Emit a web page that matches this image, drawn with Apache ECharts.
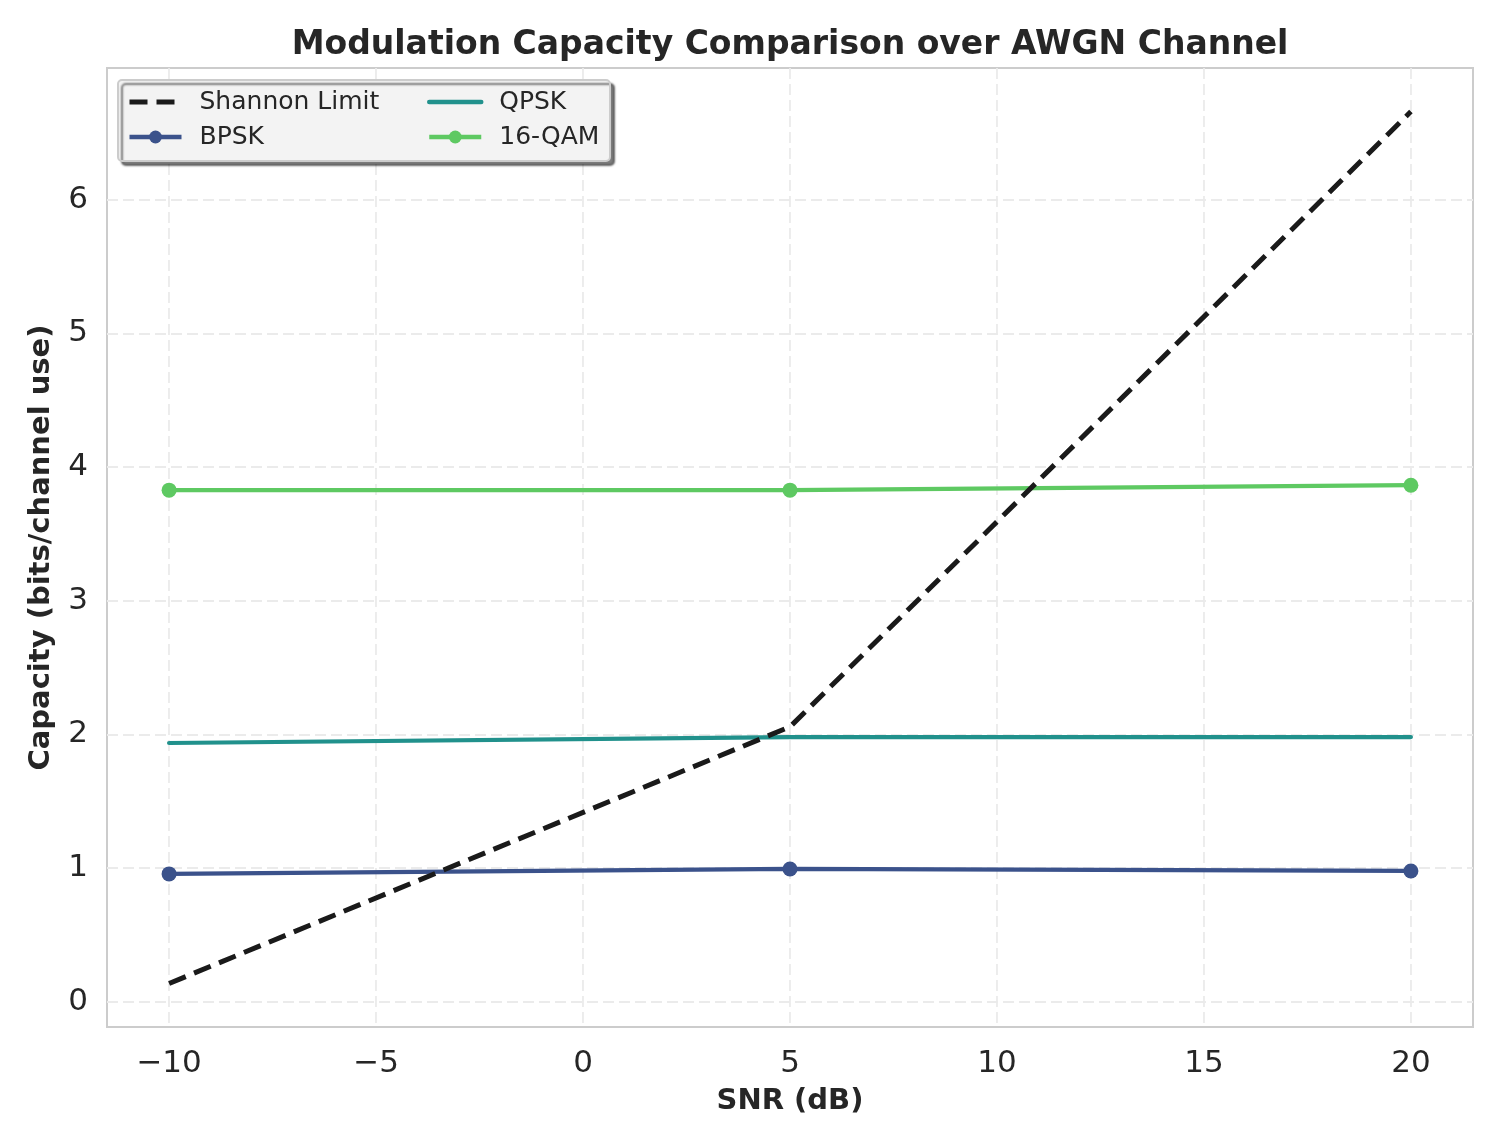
<!DOCTYPE html>
<html><head><meta charset="utf-8">
<script src="https://cdn.jsdelivr.net/npm/echarts@6/dist/echarts.min.js"></script>
<style>html,body{margin:0;padding:0;background:#fff}#c{width:1503px;height:1145px}</style>
</head><body><div id="c"></div>
<script>
const snr = [-10, 5, 20];
const shannon = [0.1375, 2.057, 6.658];
const bpsk = [0.957, 0.994, 0.979];
const qpsk = [1.936, 1.98, 1.98];
const qam16 = [3.827, 3.827, 3.864];
const xTicks = [-10, -5, 0, 5, 10, 15, 20];
const yTicks = [0, 1, 2, 3, 4, 5, 6];

const FONT = "DejaVu Sans";
const TXT = '#262626';
const pair = (ys) => snr.map((x, i) => [x, ys[i]]);
const chart = echarts.init(document.getElementById('c'), null, {renderer: 'canvas'});
const splitStyle = {show: true, lineStyle: {color: '#ebebeb', width: 1.8, type: [11, 5]}};
const legendText = {fontFamily: FONT, fontSize: 25, color: TXT, lineHeight: 26, padding: [0, 0, 0, 13]};
chart.setOption({
  animation: false,
  backgroundColor: '#fff',
  title: {text: 'Modulation Capacity Comparison over AWGN Channel', left: 790, top: 28, padding: 0, textAlign: 'center',
    textStyle: {fontFamily: FONT, fontWeight: 'bold', fontSize: 33, color: TXT, lineHeight: 35}},
  grid: {left: 107, right: 30, top: 68, bottom: 118, show: true, borderColor: '#cccccc', borderWidth: 2, backgroundColor: '#fff'},
  xAxis: {type: 'value', min: -11.5, max: 21.5,
    name: 'SNR (dB)', nameLocation: 'middle', nameGap: 60,
    nameTextStyle: {fontFamily: FONT, fontWeight: 'bold', fontSize: 29, color: TXT},
    axisLine: {show: false}, axisTick: {show: false, customValues: xTicks}, splitLine: splitStyle,
    axisLabel: {fontFamily: FONT, fontSize: 31, color: TXT, margin: 21, customValues: xTicks,
      formatter: v => String(v).replace('-', '\u2212')}},
  yAxis: {type: 'value', min: -0.188, max: 6.984,
    name: 'Capacity (bits/channel use)', nameLocation: 'middle', nameGap: 51,
    nameTextStyle: {fontFamily: FONT, fontWeight: 'bold', fontSize: 29, color: TXT},
    axisLine: {show: false}, axisTick: {show: false, customValues: yTicks}, splitLine: splitStyle,
    axisLabel: {fontFamily: FONT, fontSize: 31, color: TXT, margin: 19, customValues: yTicks}},
  graphic: [{type: 'rect', shape: {x: 118, y: 80, width: 492, height: 81, r: 4}, z: 10,
    style: {fill: '#f3f3f3', stroke: '#cccccc', lineWidth: 2, shadowColor: 'rgba(0,0,0,0.5)', shadowOffsetX: 4, shadowOffsetY: 4, shadowBlur: 2}}],
  legend: [
    {data: [{name: 'Shannon Limit', itemStyle: {opacity: 0}, lineStyle: {width: 5, type: [18, 9]}},
            {name: 'BPSK', lineStyle: {width: 4.5}}],
     orient: 'vertical', left: 127, top: 89, padding: 0, itemWidth: 52, itemHeight: 16, itemGap: 9, z: 20, textStyle: legendText},
    {data: [{name: 'QPSK', itemStyle: {opacity: 0}, lineStyle: {width: 4.5}},
            {name: '16-QAM', lineStyle: {width: 4.5}}],
     orient: 'vertical', left: 427, top: 89, padding: 0, itemWidth: 52, itemHeight: 16, itemGap: 9, z: 20, textStyle: legendText}
  ],
  series: [
    {name: 'Shannon Limit', type: 'line', data: pair(shannon), showSymbol: false, symbol: 'none', z: 5,
     lineStyle: {color: '#1a1a1a', width: 5, type: [18, 9]}, itemStyle: {color: '#1a1a1a'}},
    {name: 'BPSK', type: 'line', data: pair(bpsk), symbol: 'circle', symbolSize: 15, z: 4,
     lineStyle: {color: '#3b528b', width: 4.2}, itemStyle: {color: '#3b528b'}},
    {name: 'QPSK', type: 'line', data: pair(qpsk), symbol: 'none', showSymbol: false, z: 4,
     lineStyle: {color: '#21918c', width: 4.2, cap: 'round'}, itemStyle: {color: '#21918c'}},
    {name: '16-QAM', type: 'line', data: pair(qam16), symbol: 'circle', symbolSize: 15, z: 4,
     lineStyle: {color: '#5ec962', width: 4.2}, itemStyle: {color: '#5ec962'}}
  ]
});
</script></body></html>
